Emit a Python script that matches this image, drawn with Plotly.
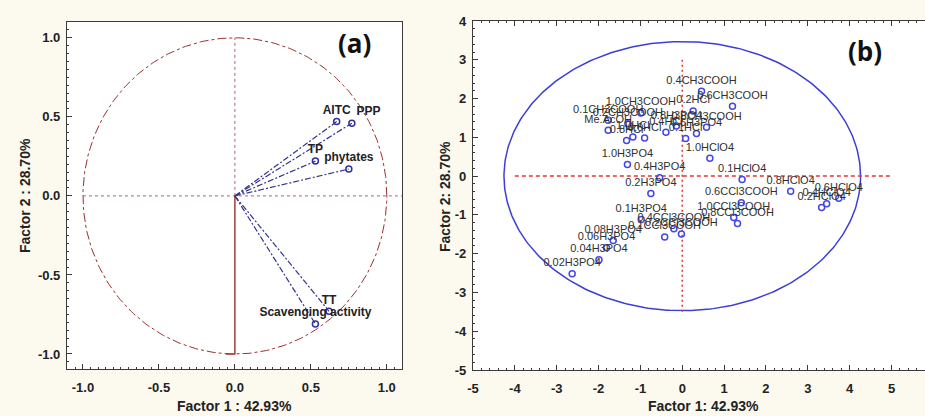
import numpy as np
import plotly.graph_objects as go

# ---------------- Panel (a): variable loadings ----------------
var_names = ["AITC", "PPP", "TP", "phytates", "TT", "Scavenging activity"]
var_f1 = [0.67, 0.77, 0.53, 0.75, 0.62, 0.53]
var_f2 = [0.47, 0.46, 0.22, 0.17, -0.73, -0.81]
var_textpos = ["top center", "top right", "top center", "top center", "top center", "top center"]

# ---------------- Panel (b): case scores ----------------
case_names = [
    "0.1CH3COOH", "1.0CH3COOH", "0.2CH3COOH", "Me.AcOH", "0.8HCl", "1.0HCl",
    "0.6HCl", "0.4HCl", "0.8H3PO4", "0.1HCl", "0.2HCl", "0.6H3PO4",
    "0.8CH3COOH", "0.4CH3COOH", "0.6CH3COOH", "1.0HClO4", "1.0H3PO4", "0.4H3PO4",
    "0.2H3PO4", "0.1HClO4", "0.6CCl3COOH", "0.8HClO4", "0.2HClO4", "0.4HClO4",
    "0.6HClO4", "1.0CCl3COOH", "0.8CCl3COOH", "0.1H3PO4", "0.1CCl3COOH", "0.4CCl3COOH",
    "0.2CCl3COOH", "0.08H3PO4", "0.06H3PO4", "0.04H3PO4", "0.02H3PO4",
]
case_f1 = [
    -1.77, -0.99, -1.30, -1.77, -1.33, -1.18,
    -0.90, -0.39, -0.14, 0.08, 0.26, 0.34,
    0.58, 0.46, 1.20, 0.66, -1.31, -0.54,
    -0.75, 1.43, 1.41, 2.59, 3.33, 3.45,
    3.74, 1.23, 1.32, -0.98, -0.42, -0.20,
    -0.02, -1.65, -1.81, -1.99, -2.63,
]
case_f2 = [
    1.44, 1.63, 1.35, 1.18, 0.92, 1.01,
    0.98, 1.13, 1.29, 0.97, 1.68, 1.10,
    1.26, 2.19, 1.80, 0.46, 0.30, -0.04,
    -0.45, -0.09, -0.69, -0.39, -0.81, -0.71,
    -0.57, -1.07, -1.22, -1.12, -1.57, -1.36,
    -1.49, -1.66, -1.85, -2.16, -2.52,
]

a_ticks = [-1.0, -0.5, 0.0, 0.5, 1.0]
a_ticktext = ["-1.0", "-0.5", "0.0", "0.5", "1.0"]
b_xticks = [-5, -4, -3, -2, -1, 0, 1, 2, 3, 4, 5]
b_xticktext = ["-5", "-4", "-3", "-2", "-1", "0", "1", "2", "3", "4", "5"]
b_yticks = [-5, -4, -3, -2, -1, 0, 1, 2, 3, 4]
b_yticktext = ["-5", "-4", "-3", "-2", "-1", "0", "1", "2", "3", "4"]

FONT = "Liberation Sans"
W, H = 925, 416

fig = go.Figure()

# ---- panel (a) ----
t = np.linspace(0, 2 * np.pi, 361)
fig.add_trace(go.Scatter(x=np.cos(t), y=np.sin(t), mode="lines",
                         line=dict(color="#9a3030", width=1, dash="dashdot"),
                         xaxis="x", yaxis="y", hoverinfo="skip"))
fig.add_trace(go.Scatter(x=[-1.0, 1.1], y=[0, 0], mode="lines",
                         line=dict(color="#b06080", width=1, dash="dot"),
                         xaxis="x", yaxis="y", hoverinfo="skip"))
fig.add_trace(go.Scatter(x=[0, 0], y=[0, 1.0], mode="lines",
                         line=dict(color="#b06080", width=1, dash="dot"),
                         xaxis="x", yaxis="y", hoverinfo="skip"))
fig.add_trace(go.Scatter(x=[-0.06, 0, 0], y=[-1.0, -1.0, 0], mode="lines",
                         line=dict(color="#a83a3a", width=1.5),
                         xaxis="x", yaxis="y", hoverinfo="skip"))
vx, vy = [], []
for a, b in zip(var_f1, var_f2):
    vx += [0, a, None]
    vy += [0, b, None]
fig.add_trace(go.Scatter(x=vx, y=vy, mode="lines",
                         line=dict(color="#34348e", width=1.2, dash="6px,2px,2px,2px"),
                         xaxis="x", yaxis="y", hoverinfo="skip"))
fig.add_trace(go.Scatter(x=var_f1, y=var_f2, mode="markers+text", text=var_names,
                         textposition=var_textpos,
                         textfont=dict(family=FONT, size=12, color="#222222", weight="bold"),
                         marker=dict(symbol="circle-open", size=6, color="#3030a0",
                                     line=dict(width=1.5, color="#3030a0")),
                         xaxis="x", yaxis="y"))

# ---- panel (b) ----
a_e, b_e = 4.26, 3.47
fig.add_trace(go.Scatter(x=a_e * np.cos(t), y=b_e * np.sin(t), mode="lines",
                         line=dict(color="#3d3dd8", width=1.5),
                         xaxis="x2", yaxis="y2", hoverinfo="skip"))
fig.add_trace(go.Scatter(x=[-4.0, 5.0], y=[0, 0], mode="lines",
                         line=dict(color="#e03838", width=1.5, dash="4px,3px"),
                         xaxis="x2", yaxis="y2", hoverinfo="skip"))
fig.add_trace(go.Scatter(x=[0, 0], y=[-3.5, 3.0], mode="lines",
                         line=dict(color="#e03838", width=1.5, dash="2px,3px"),
                         xaxis="x2", yaxis="y2", hoverinfo="skip"))
fig.add_trace(go.Scatter(x=case_f1, y=case_f2, mode="markers+text", text=case_names,
                         textposition="top center",
                         textfont=dict(family=FONT, size=11, color="#303030"),
                         marker=dict(symbol="circle-open", size=6, color="#4646e6",
                                     line=dict(width=1.5, color="#4646e6")),
                         xaxis="x2", yaxis="y2"))

axis_common = dict(showgrid=False, zeroline=False, showline=True, linecolor="#3a3a3a",
                   linewidth=1.2, ticks="inside", ticklen=5, tickcolor="#3a3a3a",
                   tickfont=dict(family=FONT, size=13, color="#222222", weight="bold"),
                   automargin=False)

fig.update_layout(
    width=W, height=H,
    margin=dict(l=0, r=0, t=0, b=0),
    paper_bgcolor="#fcf9ef", plot_bgcolor="#ffffff",
    showlegend=False,
    xaxis=dict(axis_common, domain=[67 / W, 402 / W], range=[-1.105, 1.1],
               tickvals=a_ticks, ticktext=a_ticktext, mirror=True, anchor="y",
               ticklabelstandoff=6,
               minor=dict(ticks="inside", ticklen=2, dtick=0.05, tick0=0, tickcolor="#3a3a3a")),
    yaxis=dict(axis_common, domain=[(H - 369) / H, (H - 22) / H], range=[-1.095, 1.1],
               tickvals=a_ticks, ticktext=a_ticktext, mirror=True, anchor="x",
               ticklabelstandoff=3,
               minor=dict(ticks="inside", ticklen=2, dtick=0.05, tick0=0, tickcolor="#3a3a3a")),
    xaxis2=dict(axis_common, domain=[473 / W, 1.0], range=[-5, 5.80],
                tickvals=b_xticks, ticktext=b_xticktext, mirror="allticks", anchor="y2",
                ticklabelstandoff=6,
                minor=dict(ticks="inside", ticklen=2, dtick=0.2, tick0=0, tickcolor="#3a3a3a")),
    yaxis2=dict(axis_common, domain=[(H - 370) / H, (H - 21) / H], range=[-5, 4],
                tickvals=b_yticks, ticktext=b_yticktext, mirror=False, anchor="x2",
                ticklabelstandoff=3,
                minor=dict(ticks="inside", ticklen=2, dtick=0.2, tick0=0, tickcolor="#3a3a3a")),
)

title_font = dict(family=FONT, size=14, color="#222222", weight="bold")
annots = [
    dict(text="Factor 1 : 42.93%", x=234 / W, y=1 - 406 / H, textangle=0),
    dict(text="Factor 2 : 28.70%", x=25 / W, y=1 - 196 / H, textangle=-90),
    dict(text="Factor 1: 42.93%", x=703 / W, y=1 - 406 / H, textangle=0),
    dict(text="Factor 2: 28.70%", x=445 / W, y=1 - 197 / H, textangle=-90),
]
for an in annots:
    fig.add_annotation(xref="paper", yref="paper", showarrow=False,
                       xanchor="center", yanchor="middle", font=title_font, **an)

label_font = dict(family="Open Sans", size=26, color="#111111", weight="bold")
fig.add_annotation(text="(a)", xref="paper", yref="paper", x=354 / W, y=1 - 43 / H,
                   showarrow=False, xanchor="center", yanchor="middle", font=label_font)
fig.add_annotation(text="(b)", xref="paper", yref="paper", x=865 / W, y=1 - 51 / H,
                   showarrow=False, xanchor="center", yanchor="middle", font=label_font)

fig.write_html("out.html", config={"displayModeBar": False},
               post_script="document.body.style.margin='0px';document.body.style.overflow='hidden';")
